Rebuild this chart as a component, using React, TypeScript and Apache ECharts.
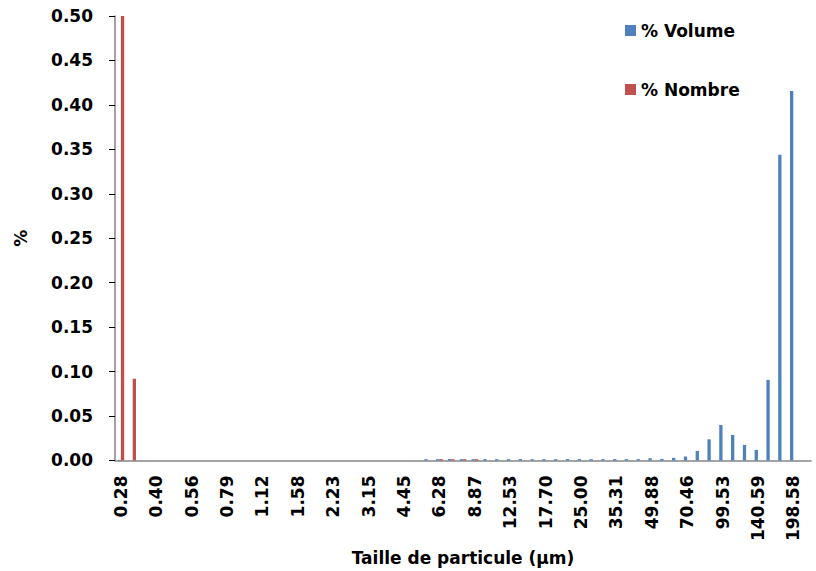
import React, { useEffect, useRef } from "react";
import * as echarts from "echarts";

const categories = [
  "0.28", "0.31", "0.35", "0.40", "0.45", "0.50", "0.56", "0.63", "0.70", "0.79",
  "0.89", "1.00", "1.12", "1.25", "1.41", "1.58", "1.77", "1.99", "2.23", "2.50",
  "2.81", "3.15", "3.53", "3.96", "4.45", "4.99", "5.60", "6.28", "7.05", "7.91",
  "8.87", "9.96", "11.17", "12.53", "14.06", "15.78", "17.70", "19.86", "22.29", "25.00",
  "28.05", "31.47", "35.31", "39.62", "44.45", "49.88", "55.97", "62.80", "70.46", "79.06",
  "88.71", "99.53", "111.68", "125.31", "140.59", "157.75", "177.00", "198.58", "222.81",
];

const volume = [
  0.0008, 0, 0, 0, 0, 0, 0, 0, 0, 0,
  0, 0, 0, 0, 0, 0, 0, 0, 0, 0,
  0, 0, 0, 0, 0, 0, 0.0015, 0.0015, 0.0016, 0.0015,
  0.0015, 0.0016, 0.0015, 0.0015, 0.0016, 0.0015, 0.0015, 0.0015, 0.0016, 0.0015,
  0.0015, 0.0015, 0.0016, 0.0015, 0.0015, 0.0026, 0.0018, 0.003, 0.0045, 0.0108,
  0.0238, 0.040, 0.0287, 0.0175, 0.0119, 0.0907, 0.344, 0.4155, 0,
];

const nombre = [
  0.5, 0.092, 0, 0, 0, 0, 0, 0, 0, 0,
  0, 0, 0, 0, 0, 0, 0, 0, 0, 0,
  0, 0, 0, 0, 0, 0, 0, 0.0015, 0.0015, 0.0015,
  0.0015, 0, 0, 0, 0, 0, 0, 0, 0, 0,
  0, 0, 0, 0, 0, 0, 0, 0, 0, 0,
  0, 0, 0, 0, 0, 0, 0, 0, 0,
];

const seriesNames = ["% Volume", "% Nombre"];
const FONT = "DejaVu Sans";

export default function App() {
  const ref = useRef<HTMLDivElement>(null);
  useEffect(() => {
    if (!ref.current) return;
    const chart = echarts.init(ref.current, undefined, { renderer: "svg" });
    chart.setOption({
      animation: false,
      textStyle: { fontFamily: FONT },
      grid: { left: 115, right: 5, top: 16, height: 448, containLabel: false },
      legend: {
        orient: "vertical",
        left: 620,
        top: 17,
        itemWidth: 11,
        itemHeight: 11,
        itemGap: 42,
        icon: "rect",
        textStyle: { fontFamily: FONT, fontWeight: "bold", fontSize: 17, color: "#000" },
        data: seriesNames,
      },
      xAxis: {
        type: "category",
        data: categories,
        name: "Taille de particule (µm)",
        nameLocation: "middle",
        nameGap: 84,
        nameTextStyle: { fontFamily: FONT, fontWeight: "bold", fontSize: 17, color: "#000" },
        axisLine: { lineStyle: { color: "#868686", width: 1.5 } },
        axisTick: { interval: 1, length: 6, lineStyle: { color: "#000" } },
        axisLabel: {
          interval: 2,
          rotate: 90,
          margin: 15,
          fontFamily: FONT,
          fontWeight: "bold",
          fontSize: 17,
          color: "#000",
        },
      },
      yAxis: {
        type: "value",
        min: 0,
        max: 0.5,
        interval: 0.05,
        name: "%",
        nameLocation: "middle",
        nameGap: 86,
        nameTextStyle: { fontFamily: FONT, fontWeight: "bold", fontSize: 17, color: "#000" },
        axisLine: { show: true, lineStyle: { color: "#868686", width: 1.5 } },
        axisTick: { show: true, length: 6, lineStyle: { color: "#000" } },
        splitLine: { show: false },
        axisLabel: {
          margin: 22,
          fontFamily: FONT,
          fontWeight: "bold",
          fontSize: 17,
          color: "#000",
          formatter: (v: number) => v.toFixed(2),
        },
      },
      series: [
        {
          name: seriesNames[0],
          type: "bar",
          data: volume,
          barWidth: 3.3,
          barGap: "0%",
          itemStyle: { color: "#4F81BD" },
        },
        {
          name: seriesNames[1],
          type: "bar",
          data: nombre,
          barWidth: 3.3,
          barGap: "0%",
          itemStyle: { color: "#C0504D" },
        },
      ],
    });
    return () => chart.dispose();
  }, []);
  return (
    <div
      ref={ref}
      style={{ position: "fixed", left: 0, top: 0, width: 816, height: 571, background: "#fff" }}
    />
  );
}
